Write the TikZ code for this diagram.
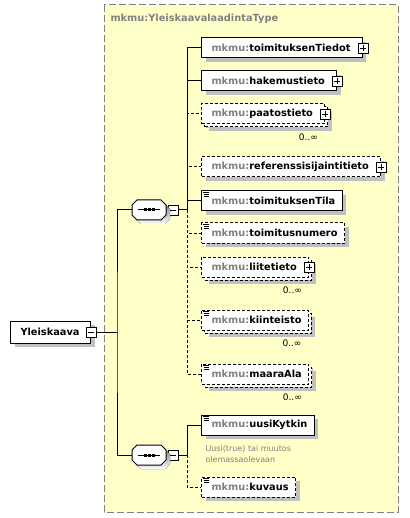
\documentclass[tikz,border=0pt]{standalone}
\usepackage{fontspec}
\setmainfont{DejaVu Sans}
\usepackage{tikz}
\usetikzlibrary{positioning, calc, shadows}
\definecolor{typefill}{RGB}{255,255,200}
\definecolor{typeedge}{RGB}{128,128,128}
\definecolor{pfxgray}{RGB}{128,128,128}
\definecolor{shade}{RGB}{192,192,192}
\newcommand{\mk}[1]{{\color{pfxgray}mkmu:}#1}

\begin{document}
\begin{tikzpicture}[x=1pt, y=-1pt, line width=1pt,
    elem/.style={draw, fill=white, anchor=west, minimum height=20pt,
        inner xsep=0pt, inner ysep=0pt,
        font=\fontsize{9.8}{12}\selectfont\bfseries,
        execute at begin node=\hspace*{10pt},
        execute at end node=\hspace*{#1},
        general shadow={fill=shade, shadow xshift=4pt, shadow yshift=-4pt}},
    elem/.default=7pt,
    optelem/.style={elem=#1, dash pattern=on 3pt off 2pt},
    optelem/.default=7pt,
    multi/.style={general shadow={fill=shade, shadow xshift=7pt, shadow yshift=-7pt},
        general shadow={draw, fill=white, shadow xshift=3pt, shadow yshift=-3pt}},
    optline/.style={dash pattern=on 3pt off 2pt},
    iconbox/.style={draw, fill=white, minimum size=10pt, inner sep=0pt, line width=0.8pt},
    minusbox/.style={iconbox, path picture={
        \draw ([xshift=2pt]path picture bounding box.west) -- ([xshift=-2pt]path picture bounding box.east);}},
    plusbox/.style={iconbox, path picture={
        \draw ([xshift=2pt]path picture bounding box.west) -- ([xshift=-2pt]path picture bounding box.east);
        \draw ([yshift=-2pt]path picture bounding box.north) -- ([yshift=2pt]path picture bounding box.south);}},
    seqbox/.style={minimum width=34pt, minimum height=20pt, inner sep=0pt},
    octagon/.style={insert path={(-17,-5) -- (-12,-10) -- (12,-10) -- (17,-5)
        -- (17,5) -- (12,10) -- (-12,10) -- (-17,5) -- cycle}},
    occ/.style={anchor=north east, inner sep=0pt, font=\fontsize{9}{11}\selectfont},
    desc/.style={anchor=north west, inner sep=0pt, align=left, text=pfxgray,
        font=\fontsize{8}{11}\selectfont}]

    \useasboundingbox (0,0) rectangle (409,518);

    % Type container
    \draw[typeedge, fill=typefill, dash pattern=on 7pt off 3pt] (104,5) rectangle (398,512);
    \node[anchor=west, inner sep=0pt, text=pfxgray, font=\fontsize{9.8}{12}\selectfont\bfseries]
        (typename) at (110,19) {mkmu:YleiskaavalaadintaType};

    % Root element
    \node[elem=11pt, minimum height=22pt] (root) at (10,332) {Yleiskaava};
    \node[minusbox] (rootm) at (root.east) {};

    % Sequences
    \node[seqbox] (seqa) at (149,210) {};
    \node[minusbox, right=1pt of seqa] (seqam) {};
    \node[seqbox] (seqb) at (149,455) {};
    \node[minusbox, right=1pt of seqb] (seqbm) {};
    \foreach \s in {seqa, seqb} {
        \begin{scope}[shift={(\s.center)}]
            \fill[shade, shift={(4,4)}] [octagon];
            \draw[fill=white] [octagon];
            \draw (-11,0) -- (11,0);
            \foreach \dx in {-4,0,4}
                \fill (\dx-1.5,-1.5) rectangle (\dx+1.5,1.5);
        \end{scope}
    }

    % Elements of first sequence
    \node[elem=12pt] (tiedot) at (201,48) {\mk{toimituksenTiedot}};
    \node[elem=12pt] (hakemus) at (201,81) {\mk{hakemustieto}};
    \node[optelem=12pt, multi] (paatos) at (201,114) {\mk{paatostieto}};
    \node[optelem=12pt] (refsij) at (201,167) {\mk{referenssisijaintitieto}};
    \node[elem] (tila) at (201,201) {\mk{toimituksenTila}};
    \node[optelem] (numero) at (201,233) {\mk{toimitusnumero}};
    \node[optelem=12pt, multi] (liite) at (201,267) {\mk{liitetieto}};
    \node[optelem, multi] (kiint) at (201,320) {\mk{kiinteisto}};
    \node[optelem, multi] (maara) at (201,374) {\mk{maaraAla}};

    % Elements of second sequence
    \node[elem] (uusi) at (201,425) {\mk{uusiKytkin}};
    \node[optelem] (kuvaus) at (201,487) {\mk{kuvaus}};
    \node[desc] (uusidoc) at ([xshift=4pt, yshift=-9pt]uusi.south west)
        {Uusi(true) tai muutos\\olemassaolevaan};

    % Expand icons
    \foreach \n in {tiedot, hakemus, paatos, refsij, liite}
        \node[plusbox] (\n p) at (\n.east) {};

    % Simple type marks
    \foreach \n in {tila, numero, kiint, maara, uusi, kuvaus} {
        \draw[line width=0.8pt] ([xshift=1.5pt, yshift=-1.5pt]\n.north west) -- ++(6,0);
        \draw[line width=0.8pt] ([xshift=2.5pt, yshift=-3.5pt]\n.north west) -- ++(5,0);
        \draw[line width=0.8pt] ([xshift=2.5pt, yshift=-5.5pt]\n.north west) -- ++(5,0);
    }

    % Occurrences
    \foreach \n in {paatos, liite, kiint, maara}
        \node[occ] (\n occ) at ([xshift=-7pt, yshift=-9pt]\n.south east) {0..∞};

    % Connectors
    \coordinate (rootbus) at (117,332);
    \coordinate (busa) at (187,210);
    \coordinate (busb) at (187,455);
    \draw (rootm.east) -- (rootbus);
    \draw (seqa.west) -| (rootbus) |- (seqb.west);
    \draw (seqam.east) -- (busa);
    \draw (seqbm.east) -- (busb);
    \foreach \n in {tiedot, hakemus, tila}
        \draw (busa) |- (\n.west);
    \foreach \n in {paatos, refsij, numero, liite, kiint, maara}
        \draw[optline] (busa) |- (\n.west);
    \draw (busb) |- (uusi.west);
    \draw[optline] (busb) |- (kuvaus.west);
\end{tikzpicture}
\end{document}
